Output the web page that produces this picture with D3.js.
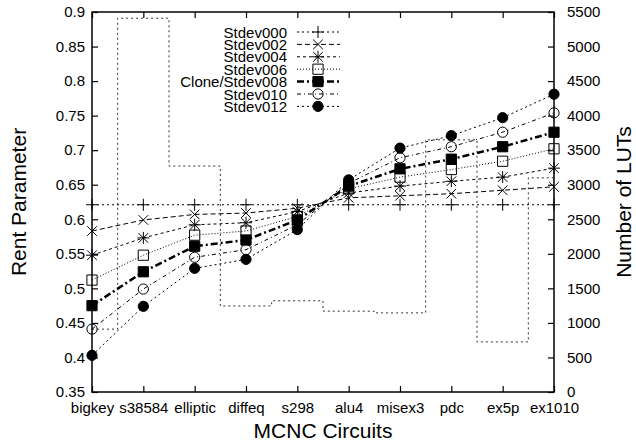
<!DOCTYPE html>
<html>
<head>
<meta charset="utf-8">
<script src="https://cdn.jsdelivr.net/npm/d3@7"></script>
<style>
  body { margin: 0; background: #fff; }
  text { font-family: "Liberation Sans", Arial, sans-serif; fill: #000; }
</style>
</head>
<body>
<svg id="chart"></svg>
<script>
// Circuits on the x axis
const circuits = ['bigkey', 's38584', 'elliptic', 'diffeq', 's298', 'alu4', 'misex3', 'pdc', 'ex5p', 'ex1010']

// Rent parameter per stdev setting (left axis)
const stdev000 = [0.621, 0.621, 0.621, 0.621, 0.621, 0.621, 0.621, 0.621, 0.621, 0.621]
const stdev002 = [0.583, 0.599, 0.607, 0.609, 0.616, 0.631, 0.634, 0.637, 0.642, 0.647]
const stdev004 = [0.548, 0.573, 0.592, 0.595, 0.611, 0.638, 0.648, 0.655, 0.661, 0.674]
const stdev006 = [0.512, 0.548, 0.577, 0.583, 0.604, 0.644, 0.661, 0.672, 0.684, 0.702]
const stdev008 = [0.475, 0.524, 0.561, 0.570, 0.599, 0.648, 0.673, 0.687, 0.705, 0.726]
const stdev010 = [0.441, 0.499, 0.545, 0.556, 0.592, 0.652, 0.689, 0.705, 0.726, 0.754]
const stdev012 = [0.403, 0.474, 0.529, 0.542, 0.585, 0.657, 0.703, 0.721, 0.747, 0.781]

// Number of LUTs per circuit (right axis, drawn as steps)
const luts = [910, 5410, 3270, 1245, 1320, 1170, 1145, 3650, 725, 3100]

const seriesNames = ['Stdev000', 'Stdev002', 'Stdev004', 'Stdev006', 'Clone/Stdev008', 'Stdev010', 'Stdev012']
const seriesValues = [stdev000, stdev002, stdev004, stdev006, stdev008, stdev010, stdev012]
const yTicks = [0.35, 0.4, 0.45, 0.5, 0.55, 0.6, 0.65, 0.7, 0.75, 0.8, 0.85, 0.9]
const y2Ticks = [0, 500, 1000, 1500, 2000, 2500, 3000, 3500, 4000, 4500, 5000, 5500]

// Line and marker styles, one per series
const styles = [
  { marker: 'plus', fill: false, dash: '2,3', width: 1 },
  { marker: 'cross', fill: false, dash: '5,3', width: 1 },
  { marker: 'star', fill: false, dash: '3,3', width: 1 },
  { marker: 'square', fill: false, dash: '1,2', width: 1 },
  { marker: 'square', fill: true, dash: '7,3,2,3', width: 2.5 },
  { marker: 'circle', fill: false, dash: '4,3,1,3', width: 1 },
  { marker: 'circle', fill: true, dash: '2,3', width: 1 }
]

const width = 636
const height = 444
const margin = { top: 12, right: 82, bottom: 52, left: 92 }

const svg = d3.select('#chart')
  .attr('width', width)
  .attr('height', height)

const x = d3.scalePoint()
  .domain(circuits)
  .range([margin.left, width - margin.right])

const y = d3.scaleLinear()
  .domain([0.35, 0.9])
  .range([height - margin.bottom, margin.top])

const y2 = d3.scaleLinear()
  .domain([0, 5500])
  .range([height - margin.bottom, margin.top])

// Marker shapes
const glyphs = {
  plus: r => `M${-r},0H${r}M0,${-r}V${r}`,
  cross: r => `M${-r * 0.8},${-r * 0.8}L${r * 0.8},${r * 0.8}M${-r * 0.8},${r * 0.8}L${r * 0.8},${-r * 0.8}`,
  star: r => glyphs.plus(r) + glyphs.cross(r),
  square: r => `M${-r * 0.85},${-r * 0.85}h${r * 1.7}v${r * 1.7}h${-r * 1.7}Z`,
  circle: r => `M${r * 0.85},0A${r * 0.85},${r * 0.85} 0 1,1 ${-r * 0.85},0A${r * 0.85},${r * 0.85} 0 1,1 ${r * 0.85},0Z`
}

function drawMarker (g, style, cx, cy) {
  g.append('path')
    .attr('d', glyphs[style.marker](6))
    .attr('transform', `translate(${cx},${cy})`)
    .attr('fill', style.fill ? '#000' : (style.marker === 'square' || style.marker === 'circle' ? '#fff' : 'none'))
    .attr('fill-opacity', style.fill ? 1 : 0)
    .attr('stroke', '#000')
    .attr('stroke-width', 1)
}

// LUT step line
svg.append('path')
  .datum(luts)
  .attr('fill', 'none')
  .attr('stroke', '#333')
  .attr('stroke-width', 1)
  .attr('stroke-dasharray', '2,3')
  .attr('d', d3.line()
    .x((d, i) => x(circuits[i]))
    .y(d => y2(d))
    .curve(d3.curveStep))

// Series lines and markers
const line = d3.line()
  .x((d, i) => x(circuits[i]))
  .y(d => y(d))

seriesValues.forEach((values, s) => {
  const style = styles[s]
  const g = svg.append('g')
  g.append('path')
    .datum(values)
    .attr('fill', 'none')
    .attr('stroke', '#000')
    .attr('stroke-width', style.width)
    .attr('stroke-dasharray', style.dash)
    .attr('d', line)
  values.forEach((v, i) => drawMarker(g, style, x(circuits[i]), y(v)))
})

// Axes (gnuplot style: inward ticks, box border)
const axisFont = g => g.selectAll('text')
  .style('font-family', '"Liberation Sans", Arial, sans-serif')
  .style('font-size', '15px')

svg.append('g')
  .attr('transform', `translate(${margin.left},0)`)
  .call(d3.axisLeft(y).tickValues(yTicks).tickFormat(d3.format('')).tickSizeInner(-6).tickSizeOuter(0).tickPadding(7))
  .call(g => g.select('.domain').remove())
  .call(axisFont)

svg.append('g')
  .attr('transform', `translate(${width - margin.right},0)`)
  .call(d3.axisRight(y2).tickValues(y2Ticks).tickFormat(d3.format('d')).tickSizeInner(-6).tickSizeOuter(0).tickPadding(13))
  .call(g => g.select('.domain').remove())
  .call(axisFont)

svg.append('g')
  .attr('transform', `translate(0,${height - margin.bottom})`)
  .call(d3.axisBottom(x).tickSizeInner(-6).tickSizeOuter(0).tickPadding(10))
  .call(g => g.select('.domain').remove())
  .call(axisFont)

svg.append('g')
  .attr('transform', `translate(0,${margin.top})`)
  .call(d3.axisTop(x).tickSizeInner(-6).tickSizeOuter(0).tickFormat(''))
  .call(g => g.select('.domain').remove())

svg.selectAll('.tick line').attr('stroke-width', 1.2)

svg.append('rect')
  .attr('x', margin.left)
  .attr('y', margin.top)
  .attr('width', width - margin.left - margin.right)
  .attr('height', height - margin.top - margin.bottom)
  .attr('fill', 'none')
  .attr('stroke', '#000')
  .attr('stroke-width', 1.5)

// Axis titles
const midY = (margin.top + height - margin.bottom) / 2
svg.append('text')
  .attr('transform', `translate(18,${midY}) rotate(-90)`)
  .attr('text-anchor', 'middle')
  .attr('dominant-baseline', 'central')
  .style('font-size', '21px')
  .text('Rent Parameter')

svg.append('text')
  .attr('transform', `translate(623,${midY}) rotate(-90)`)
  .attr('text-anchor', 'middle')
  .attr('dominant-baseline', 'central')
  .style('font-size', '21px')
  .text('Number of LUTs')

svg.append('text')
  .attr('x', (margin.left + width - margin.right) / 2)
  .attr('y', 438)
  .attr('text-anchor', 'middle')
  .style('font-size', '21px')
  .text('MCNC Circuits')

// Legend
const legend = svg.append('g')
seriesNames.forEach((name, s) => {
  const ly = 32 + s * 12.4
  const style = styles[s]
  legend.append('text')
    .attr('x', 287)
    .attr('y', ly)
    .attr('text-anchor', 'end')
    .attr('dominant-baseline', 'central')
    .style('font-size', '15px')
    .text(name)
  legend.append('line')
    .attr('x1', 297)
    .attr('x2', 340)
    .attr('y1', ly)
    .attr('y2', ly)
    .attr('stroke', '#000')
    .attr('stroke-width', style.width)
    .attr('stroke-dasharray', style.dash)
  drawMarker(legend, style, 318, ly)
})
</script>
</body>
</html>
